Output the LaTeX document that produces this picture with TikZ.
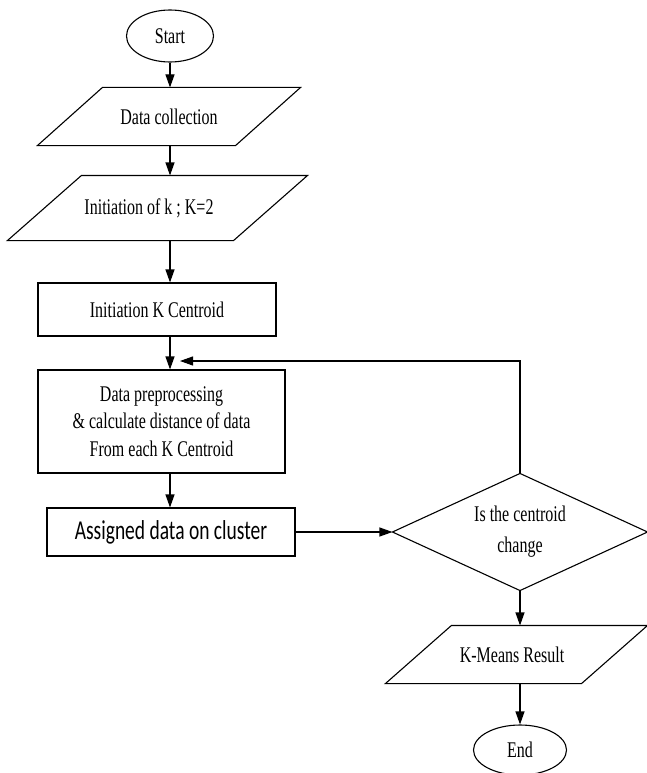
\documentclass[tikz,border=0pt]{standalone}
\usepackage{fontspec}
\usepackage{graphicx}
\setmainfont{Liberation Serif}
\newfontfamily\labelsans{Carlito}
\usetikzlibrary{arrows.meta,shapes.geometric}

% tall, narrow lettering used in every box
\newcommand{\tl}[1]{\scalebox{1}[1.4]{#1}}
% parallelogram outline drawn around a (borderless) rectangle node
\newcommand{\ioshape}[2]{\draw ([xshift=#2]#1.north west) -- (#1.north east)
  -- ([xshift=-#2]#1.south east) -- (#1.south west) -- cycle;}

\begin{document}
\begin{tikzpicture}[x=1pt,y=-1pt,line width=1.1pt,
  every node/.style={font=\fontsize{16}{27.5}\selectfont,inner sep=0pt,align=center},
  term/.style={ellipse,draw,minimum width=87pt,minimum height=52pt},
  proc/.style={rectangle,draw},
  io/.style={rectangle},
  flow/.style={-{Triangle[length=13pt,width=9pt]}},
]
\useasboundingbox (0,0) rectangle (647,773);

% nodes
\node[term] (start) at (170,36) {\tl{Start}};
\node[io,minimum width=262pt,minimum height=57pt] (dc) at (169,116.5) {\tl{Data collection}};
\ioshape{dc}{65pt}
\node[io,minimum width=299pt,minimum height=64pt] (ik) at (157.5,208) {\tl{Initiation of k ; K=2}\hspace*{17pt}};
\ioshape{ik}{74pt}
\node[proc,minimum width=238pt,minimum height=53pt] (ikc) at (157,309.5) {\tl{Initiation K Centroid}};
\node[proc,minimum width=247pt,minimum height=103pt] (dp) at (161.5,421.5)
  {\tl{Data preprocessing}\\ \tl{\& calculate distance of data}\\ \tl{From each K Centroid}};
\node[proc,minimum width=248pt,minimum height=48pt] (asg) at (171,532)
  {\labelsans\fontsize{19.5}{20}\selectfont\tl{Assigned data on cluster}};
\node[rectangle,minimum width=254pt,minimum height=116pt,font=\fontsize{16}{31}\selectfont] (dec) at (520,532)
  {\tl{Is the centroid}\\ \tl{change}};
\draw (dec.west) -- (dec.north) -- (dec.east) -- (dec.south) -- cycle;
\node[io,minimum width=261pt,minimum height=57pt] (km) at (516.5,654.5) {\tl{K-Means Result}\hspace*{9pt}};
\ioshape{km}{66pt}
\node[term,minimum width=93pt,minimum height=50pt] (end) at (520,750) {\tl{End}};

% connectors
\coordinate (back) at (180,361);
\draw[flow] (start.south) -- (dc.north -| start.south);
\draw[flow] (dc.south -| start.south) -- (ik.north -| start.south);
\draw[flow] (ik.south -| start.south) -- (ikc.north -| start.south);
\draw[flow] (ikc.south -| start.south) -- (dp.north -| start.south);
\draw[flow] (dp.south -| start.south) -- (asg.north -| start.south);
\draw[flow] (asg.east) -- (dec.west);
\draw[flow] (dec.north) |- (back);
\draw[flow] (dec.south) -- (km.north -| dec.south);
\draw[flow] (km.south -| dec.south) -- (end.north);
\end{tikzpicture}
\end{document}
